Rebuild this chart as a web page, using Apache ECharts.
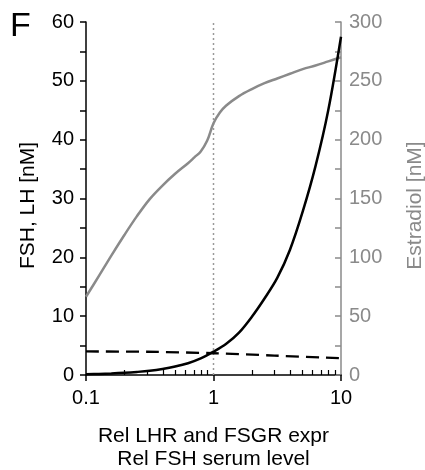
<!DOCTYPE html>
<html>
<head>
<meta charset="utf-8">
<script src="https://cdn.jsdelivr.net/npm/echarts@6/dist/echarts.min.js"></script>
<style>
html,body{margin:0;padding:0;background:#fff;}
#chart{width:425px;height:470px;}
</style>
</head>
<body>
<div id="chart"></div>
<script>
// ---- data ----
const xMinorTicks = [0.2,0.3,0.4,0.5,0.6,0.7,0.8,0.9,2,3,4,5,6,7,8,9];

const fshX = [0.1,0.126,0.158,0.2,0.251,0.316,0.398,0.5,0.631,0.794,1,1.259,1.585,2,2.512,3.162,3.981,5.012,6.31,7.943,10];
const fshY = [0.13,0.19,0.26,0.37,0.52,0.72,1.02,1.43,2.0,2.82,3.96,5.3,7.2,9.9,13.0,16.5,21.3,27.8,35.5,45.0,57.5];

const lhX = [0.1,0.3,1,3,10];
const lhY = [4.0,3.95,3.7,3.3,2.85];

const e2X = [0.1,0.126,0.158,0.2,0.251,0.316,0.398,0.5,0.631,0.708,0.794,0.891,1,1.122,1.259,1.585,2,2.512,3.162,3.981,5.012,6.31,7.943,10];
const e2Y = [66.5,84,101.5,119,135,149.5,161,171,180,185,190,199,214,223,229,237,243,248,252,256,260,263,266.5,270];

const refX = [1, 1];
const refY = [0, 60];

const zip = (a, b) => a.map((v, i) => [v, b[i]]);

const FONT = 'Liberation Sans, Arial, sans-serif';
const GRAY = '#8a8a8a';

const chart = echarts.init(document.getElementById('chart'), null, {renderer: 'canvas'});
chart.setOption({
  animation: false,
  backgroundColor: '#fff',
  textStyle: {fontFamily: FONT},
  title: {
    text: 'F', left: 5, top: 5,
    textStyle: {fontSize: 34, fontWeight: 'normal', color: '#000', fontFamily: FONT}
  },
  grid: {left: 86, right: 84, top: 22, bottom: 95, containLabel: false, outerBoundsMode: 'none'},
  xAxis: [{
    type: 'log', logBase: 10, min: 0.1, max: 10, position: 'bottom',
    axisLine: {onZero: false, lineStyle: {color: '#000', width: 1.5}},
    axisTick: {show: true, length: 6, lineStyle: {color: '#000', width: 1.5}},
    axisLabel: {fontSize: 20, color: '#000', margin: 13, fontFamily: FONT,
      formatter: v => String(+v.toPrecision(3))},
    splitLine: {show: false},
    name: 'Rel LHR and FSGR expr\nRel FSH serum level',
    nameLocation: 'middle', nameGap: 50,
    nameTextStyle: {fontSize: 21, color: '#000', lineHeight: 23, fontFamily: FONT}
  }, {
    type: 'value', min: -1, max: 1, position: 'bottom', offset: 0,
    axisLine: {show: true, onZero: false, lineStyle: {color: 'rgba(0,0,0,0)', width: 0}},
    axisTick: {show: true, inside: true, length: 5,
      customValues: xMinorTicks.map(v => Math.log10(v)),
      lineStyle: {color: '#000', width: 1.2}},
    axisLabel: {show: false},
    splitLine: {show: false}
  }],
  yAxis: [{
    type: 'value', min: 0, max: 60, interval: 10, position: 'left',
    axisLine: {show: true, onZero: false, lineStyle: {color: '#000', width: 1.5}},
    axisTick: {show: true, length: 6, lineStyle: {color: '#000', width: 1.5}},
    minorTick: {show: true, splitNumber: 2, length: 6, lineStyle: {color: '#000', width: 1.5}},
    axisLabel: {fontSize: 20, color: '#000', margin: 12, fontFamily: FONT},
    splitLine: {show: false},
    name: 'FSH, LH [nM]', nameLocation: 'middle', nameGap: 47,
    nameTextStyle: {fontSize: 21, color: '#000', fontFamily: FONT, padding: [0, 14, 0, 0]}
  }, {
    type: 'value', min: 0, max: 300, interval: 50, position: 'right',
    axisLine: {show: true, onZero: false, lineStyle: {color: GRAY, width: 1.5}},
    axisTick: {show: true, inside: true, length: 6, lineStyle: {color: GRAY, width: 1.5}},
    minorTick: {show: true, splitNumber: 2, length: 6, lineStyle: {color: GRAY, width: 1.5}},
    axisLabel: {fontSize: 20, color: GRAY, margin: 8, fontFamily: FONT},
    splitLine: {show: false},
    name: 'Estradiol [nM]', nameLocation: 'middle', nameGap: 64,
    nameTextStyle: {fontSize: 21, color: GRAY, fontFamily: FONT, padding: [0, 14, 0, 0]}
  }],
  series: [{
    type: 'line', xAxisIndex: 0, yAxisIndex: 0, data: zip(refX, refY),
    showSymbol: false, lineStyle: {color: '#999', width: 1.5, type: [2, 3]}, z: 1
  }, {
    type: 'line', xAxisIndex: 0, yAxisIndex: 1, data: zip(e2X, e2Y),
    smooth: 0.35, showSymbol: false, lineStyle: {color: GRAY, width: 2.5}, z: 2
  }, {
    type: 'line', xAxisIndex: 0, yAxisIndex: 0, data: zip(lhX, lhY),
    smooth: 0.3, showSymbol: false, lineStyle: {color: '#000', width: 2.3, type: [13, 7]}, z: 3
  }, {
    type: 'line', xAxisIndex: 0, yAxisIndex: 0, data: zip(fshX, fshY),
    smooth: 0.35, showSymbol: false, lineStyle: {color: '#000', width: 2.5}, z: 4
  }]
});
</script>
</body>
</html>
